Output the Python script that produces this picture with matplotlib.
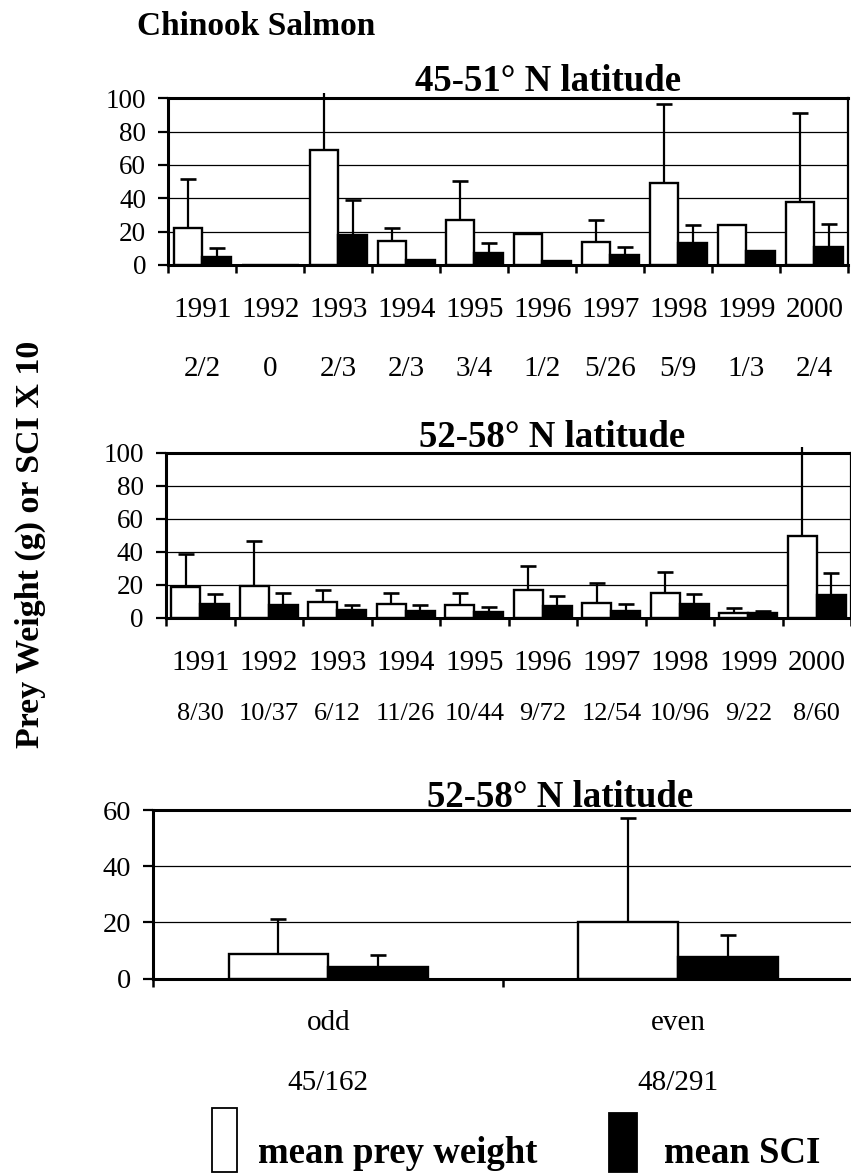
import matplotlib
matplotlib.use("Agg")
import matplotlib.pyplot as plt
from matplotlib.patches import Rectangle
import numpy as np

nan = np.nan

years = ['1991', '1992', '1993', '1994', '1995', '1996', '1997', '1998', '1999', '2000']
south_counts = ['2/2', '0', '2/3', '2/3', '3/4', '1/2', '5/26', '5/9', '1/3', '2/4']
north_counts = ['8/30', '10/37', '6/12', '11/26', '10/44', '9/72', '12/54', '10/96', '9/22', '8/60']

# 45-51 N
south_weight = [22.3, 0, 69, 14.4, 27, 18.4, 14, 49.3, 24, 38]
south_weight_top = [51.5, nan, 103, 22, 50.5, nan, 26.7, 96.8, nan, 91.2]
south_sci = [5.0, 0, 18, 3, 7.4, 2.4, 5.8, 13.4, 8.4, 10.6]
south_sci_top = [10, nan, 39, nan, 13, nan, 10.6, 24, nan, 24.5]

# 52-58 N
north_weight = [18.6, 19.4, 9.3, 8.3, 7.5, 16.6, 9.1, 15.2, 2.6, 49.5]
north_weight_top = [38.9, 46.4, 17, 15, 15.2, 31.6, 20.9, 27.9, 6.1, 103.5]
north_sci = [8.5, 7.7, 4.7, 3.8, 3.6, 7.3, 4.3, 8.5, 3.0, 13.6]
north_sci_top = [14.2, 15, 7.5, 7.5, 6.3, 13, 8.5, 14.6, 3.8, 27.1]

# 52-58 N, odd vs even years
parity = ['odd', 'even']
parity_counts = ['45/162', '48/291']
parity_weight = [8.9, 20.2]
parity_weight_top = [21.2, 57.1]
parity_sci = [4.2, 7.5]
parity_sci_top = [8.5, 15.6]

W, H = 851, 1175
plt.rcParams['font.family'] = ['Liberation Serif', 'DejaVu Serif']

fig = plt.figure(figsize=(W / 100, H / 100), dpi=100)


def fx(x):
    return x / W


def fy(y):
    return 1 - y / H


def make_axes(left, right, top, bottom):
    return fig.add_axes((fx(left), fy(bottom), fx(right) - fx(left), (bottom - top) / H))


def draw_panel(ax, weight, weight_top, sci, sci_top, ymax, ystep, bw, tick_fs, cap):
    n = len(weight)
    x = np.arange(n) + 0.5
    xw = x - bw / 2
    xs = x + bw / 2
    ax.bar(xw, weight, bw, color='white', edgecolor='black', linewidth=1.7, zorder=2)
    ax.bar(xs, sci, bw, color='black', edgecolor='black', linewidth=1.7, zorder=2)

    for xx, val, top in list(zip(xw, weight, weight_top)) + list(zip(xs, sci, sci_top)):
        if np.isnan(top):
            continue
        ax.vlines(xx, val, top, color='black', linewidth=1.6, zorder=3, clip_on=False)
        if top <= ymax:
            ax.plot([xx], [top], marker='_', markersize=cap, markeredgewidth=1.9,
                    color='black', zorder=3, clip_on=False)

    ax.set_xlim(0, n)
    ax.set_ylim(0, ymax)
    ax.set_xticks(np.arange(n + 1))
    ax.set_xticklabels([])
    ax.set_yticks(np.arange(0, ymax + 1, ystep))
    ax.tick_params(axis='x', direction='out', length=6, width=1.8)
    ax.tick_params(axis='y', direction='out', length=7, width=1.6, labelsize=tick_fs, pad=9)
    ax.yaxis.grid(True, color='black', linewidth=0.9)
    ax.set_axisbelow(True)
    for side in ['left', 'bottom', 'top']:
        ax.spines[side].set_linewidth(2.2)
    ax.spines['right'].set_linewidth(1.6)
    for sp in ax.spines.values():
        sp.set_zorder(4)
    return x


def row_labels(ax, x, labels, y_base, fs):
    tr = matplotlib.transforms.blended_transform_factory(ax.transData, fig.transFigure)
    for xx, lab in zip(x, labels):
        ax.text(xx, fy(y_base), lab, transform=tr, ha='center', va='baseline', fontsize=fs)


fig.text(fx(137), fy(35), 'Chinook Salmon', fontsize=24, fontweight='bold', va='baseline')

# top panel
ax1 = make_axes(168.3, 848.3, 98.3, 265)
x1 = draw_panel(ax1, south_weight, south_weight_top, south_sci, south_sci_top, 100, 20, 0.42, 19.5, 11.5)
fig.text(fx(548), fy(90.7), '45-51° N latitude', fontsize=26.5, fontweight='bold',
         ha='center', va='baseline')
row_labels(ax1, x1, years, 317, 21)
row_labels(ax1, x1, south_counts, 376, 21)

# middle panel
ax2 = make_axes(166, 851, 452.7, 617.7)
x2 = draw_panel(ax2, north_weight, north_weight_top, north_sci, north_sci_top, 100, 20, 0.42, 19.5, 11.5)
fig.text(fx(552), fy(446.7), '52-58° N latitude', fontsize=26.5, fontweight='bold',
         ha='center', va='baseline')
row_labels(ax2, x2, years, 670, 21)
row_labels(ax2, x2, north_counts, 720, 19)

# bottom panel
ax3 = make_axes(153.3, 853, 810, 978.5)
x3 = draw_panel(ax3, parity_weight, parity_weight_top, parity_sci, parity_sci_top, 60, 20, 0.285, 20.5, 12)
fig.text(fx(560), fy(806.7), '52-58° N latitude', fontsize=26.5, fontweight='bold',
         ha='center', va='baseline')
row_labels(ax3, x3, parity, 1030.5, 21)
row_labels(ax3, x3, parity_counts, 1090, 21)

# y label
fig.text(fx(30), fy(544), 'Prey Weight (g) or SCI X 10', fontsize=24.5, fontweight='bold',
         rotation=90, ha='center', va='center')

# legend
fig.add_artist(Rectangle((fx(212), fy(1172)), (237 - 212) / W, (1172 - 1108) / H,
                         transform=fig.transFigure, facecolor='white', edgecolor='black', linewidth=1.3))
fig.add_artist(Rectangle((fx(609), fy(1172)), (637 - 609) / W, (1172 - 1113) / H,
                         transform=fig.transFigure, facecolor='black', edgecolor='black', linewidth=1.3))
fig.text(fx(258), fy(1163), 'mean prey weight', fontsize=26.5, fontweight='bold', va='baseline')
fig.text(fx(664), fy(1163), 'mean SCI', fontsize=26.5, fontweight='bold', va='baseline')

fig.savefig('out.png', dpi=100)
